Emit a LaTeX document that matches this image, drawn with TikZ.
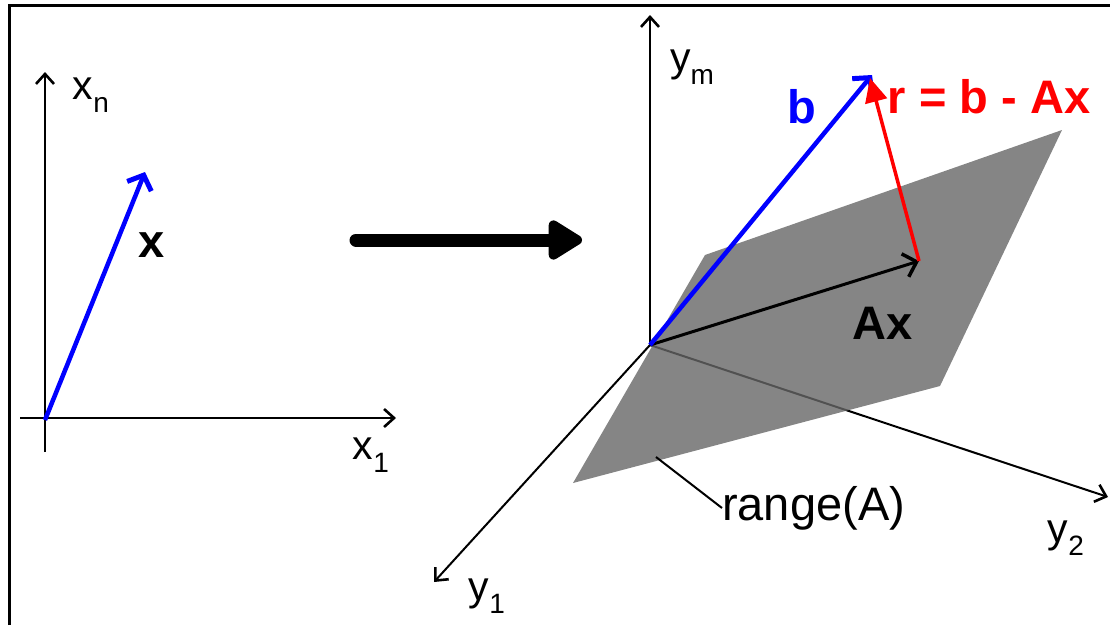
\documentclass[tikz,border=0pt]{standalone}
\usepackage{fontspec}
\setmainfont{Liberation Sans}
\usetikzlibrary{arrows.meta}
\newcommand{\axlab}[2]{#1\raisebox{-0.32em}{\fontsize{28}{28}\selectfont #2}}

\begin{document}
\begin{tikzpicture}[
    x=1pt, y=-1pt,
    axis/.style={line width=2pt, draw=black,
      -{Straight Barb[length=10pt, width=18pt, line width=2.6pt]}},
    axlabel/.style={inner sep=0pt, font=\fontsize{41}{41}\selectfont},
    veclabel/.style={inner sep=0pt, font=\fontsize{47}{47}\selectfont\bfseries},
    vecx/.style={line width=4.5pt, draw=blue,
      -{Straight Barb[length=12pt, width=26pt, line width=5pt]}},
    vecax/.style={line width=3pt, draw=black,
      -{Straight Barb[length=12pt, width=24pt, line width=3.5pt]}},
    vecr/.style={line width=3.5pt, draw=red,
      -{Triangle[length=24pt, width=22pt]}},
    maparrow/.style={line width=13pt, line cap=round,
      -{Triangle[length=38pt, width=44pt, round]}},
    plane/.style={fill=black!60, fill opacity=0.8}
  ]
    \useasboundingbox (0,0) rectangle (1110,625);
    \draw[line width=3pt] (9,625) -- (9,5) -- (1110,5);

    % left space
    \coordinate (xo) at (45,420);
    \coordinate (xtop) at (45,72);
    \coordinate (xbot) at (45,452);
    \coordinate (xleft) at (20,418);
    \coordinate (xright) at (396,418);
    \coordinate (xtip) at (145,172);
    \draw[axis, -] (xbot) -- (xo);
    \draw[axis] (xo) -- (xtop);
    \draw[axis] (xleft) -- (xright);
    \draw[vecx] (xo) -- (xtip);
    \node[axlabel] (xn) at (91,95) {\axlab{x}{n}};
    \node[axlabel] (x1) at (371,455) {\axlab{x}{1}};
    \node[veclabel] (xlab) at (152,245) {x};

    % mapping
    \coordinate (mapfrom) at (356,240);
    \coordinate (mapto) at (582,240);
    \draw[maparrow] (mapfrom) -- (mapto);

    % right space
    \coordinate (yo) at (650,345);
    \coordinate (ymtip) at (650,15);
    \coordinate (y1tip) at (434,582);
    \coordinate (y2tip) at (1108,497);
    \draw[axis] (yo) -- (ymtip);
    \draw[axis] (yo) -- (y1tip);
    \draw[axis] (yo) -- (y2tip);
    \node[axlabel] (ym) at (692,67) {\axlab{y}{m}};
    \node[axlabel] (y2) at (1066,538) {\axlab{y}{2}};
    \node[axlabel] (y1) at (487,596) {\axlab{y}{1}};

    % range of A
    \fill[plane] (705,255) -- (1062,130) -- (940,386) -- (573,483) -- cycle;
    \coordinate (rangept) at (656,457);
    \node[inner sep=0pt, anchor=west, font=\fontsize{47}{47}\selectfont] (range) at (722,508) {range(A)};
    \draw[line width=2pt] (rangept) -- (range.west);

    % vectors
    \coordinate (axtip) at (919,261);
    \coordinate (btip) at (872,75);
    \draw[vecax] (yo) -- (axtip);
    \draw[vecx] (yo) -- (btip);
    \draw[vecr] (axtip) -- (870,78);
    \node[veclabel, text=blue] (blab) at (802,107) {b};
    \node[veclabel, text=red] (rlab) at (989,97) {r = b - Ax};
    \node[veclabel] (axlab) at (883,323) {Ax};
  \end{tikzpicture}
\end{document}
